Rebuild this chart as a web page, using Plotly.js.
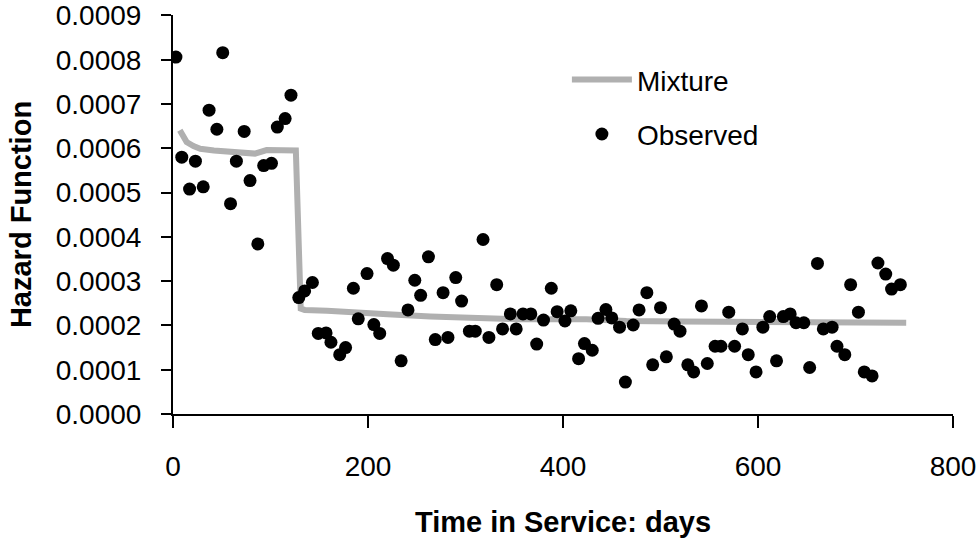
<!DOCTYPE html>
<html>
<head>
<meta charset="utf-8">
<script src="https://cdn.plot.ly/plotly-3.0.1.min.js"></script>
<style>html,body{margin:0;padding:0;background:#fff;}#chart{width:980px;height:539px;}</style>
</head>
<body>
<div id="chart"></div>
<script>
// Observed hazard (days in service, hazard)
const obsDays = [3,9,17,23,31,37,45,51,59,65,73,79,87,93,101,107,115,121,
  129,135,143,149,157,162,171,177,185,190,
  199,206,212,220,226,234,241,248,254,262,269,277,282,290,296,304,310,318,324,332,338,346,352,359,367,373,
  380,388,394,402,408,416,422,430,436,444,450,458,464,472,478,486,492,500,506,514,520,528,534,542,548,556,
  562,570,576,584,590,598,605,612,619,626,633,639,647,653,661,667,676,681,689,695,703,709,717,723,731,737,746];
const obsHazard = [0.000806,0.000580,0.000508,0.000571,0.000513,0.000686,0.000643,0.000816,0.000475,0.000571,0.000638,0.000527,0.000384,0.000561,0.000566,0.000648,0.000667,0.000720,
  0.000263,0.000278,0.000297,0.000182,0.000183,0.000162,0.000134,0.000150,0.000284,0.000215,
  0.000317,0.000202,0.000182,0.000351,0.000336,0.000120,0.000235,0.000302,0.000268,0.000355,0.000168,0.000274,0.000173,0.000308,0.000255,0.000187,0.000187,0.000394,0.000173,0.000292,0.000192,0.000226,0.000192,0.000226,0.000226,0.000158,
  0.000212,0.000284,0.000231,0.000210,0.000233,0.000125,0.000159,0.000144,0.000216,0.000236,0.000217,0.000196,0.000072,0.000201,0.000235,0.000274,0.000111,0.000240,0.000129,0.000203,0.000187,0.000111,0.000095,0.000244,0.000114,0.000153,
  0.000153,0.000230,0.000153,0.000192,0.000134,0.000095,0.000196,0.000220,0.000120,0.000220,0.000226,0.000206,0.000206,0.000105,0.000340,0.000192,0.000196,0.000153,0.000134,0.000292,0.000230,0.000095,0.000086,0.000341,0.000316,0.000282,0.000292];

// Mixture model hazard
const mixDays = [7,14,21,28,42,56,70,84,96,112,126,131,135,158,188,220,264,300,356,424,465,520,561,620,700,752];
const mixHazard = [0.000641,0.000614,0.000605,0.000599,0.000595,0.000592,0.000590,0.000588,0.000596,0.000596,0.000595,0.000238,0.000235,0.000233,0.000228,0.000225,0.000220,0.000218,0.000214,0.000214,0.000210,0.000209,0.000208,0.000207,0.000207,0.000206];

const xTicks = [0,200,400,600,800];
const yTicks = [0,0.0001,0.0002,0.0003,0.0004,0.0005,0.0006,0.0007,0.0008,0.0009];
const yTickText = ['0.0000','0.0001','0.0002','0.0003','0.0004','0.0005','0.0006','0.0007','0.0008','0.0009'];

const traces = [
  {x: mixDays, y: mixHazard, name: 'Mixture', type: 'scatter', mode: 'lines', legendgroup: 'g1',
   line: {color: '#b0b0b0', width: 6}},
  {x: obsDays, y: obsHazard, name: 'Observed', type: 'scatter', mode: 'markers', legendgroup: 'g2',
   marker: {color: '#000', size: 13}}
];

const fontFam = '"Liberation Sans", Arial, Helvetica, sans-serif';
const layout = {
  width: 980, height: 539,
  margin: {l: 173, r: 27, t: 15, b: 125, autoexpand: false},
  paper_bgcolor: '#fff', plot_bgcolor: '#fff',
  font: {family: fontFam, size: 28, color: '#000'},
  showlegend: true,
  legend: {x: 0.505, y: 0.90, xanchor: 'left', yanchor: 'top', bgcolor: 'rgba(0,0,0,0)',
           font: {size: 28, color: '#000'}, itemwidth: 60, tracegroupgap: 15},
  xaxis: {range: [0, 800], tickvals: xTicks, ticktext: xTicks.map(String),
          showline: true, linecolor: '#000', linewidth: 2, mirror: false,
          ticks: 'outside', ticklen: 12, tickwidth: 2, tickcolor: '#000',
          showgrid: false, zeroline: false, automargin: false,
          tickfont: {size: 28}, ticklabelstandoff: 14,
          title: {text: '<b>Time in Service: days</b>', font: {size: 29}, standoff: 31}},
  yaxis: {range: [0, 0.000901], tickvals: yTicks, ticktext: yTickText,
          showline: true, linecolor: '#000', linewidth: 2,
          ticks: 'outside', ticklen: 10, tickwidth: 2, tickcolor: '#000',
          showgrid: false, zeroline: false, automargin: false,
          tickfont: {size: 28}, ticklabelstandoff: 14,
          title: {text: '<b>Hazard Function</b>', font: {size: 29}, standoff: 16}}
};

Plotly.newPlot('chart', traces, layout, {displayModeBar: false, staticPlot: true});
</script>
</body>
</html>
